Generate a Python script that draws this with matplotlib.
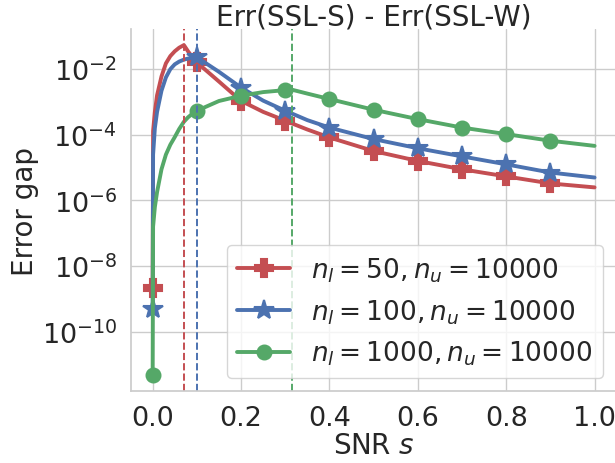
import matplotlib
matplotlib.use("Agg")
import matplotlib.pyplot as plt
import numpy as np
import seaborn as sns

# SNR grid shared by the three curves
snr = [0, 0.001, 0.005, 0.01, 0.02, 0.03, 0.04, 0.05, 0.06, 0.0707, 0.08, 0.09,
       0.1, 0.15, 0.2, 0.25, 0.3, 0.316, 0.35, 0.4, 0.5, 0.6, 0.7, 0.8, 0.9, 1.0]

gap_50 = [2.1e-9, 1.3e-4, 5.0e-4, 1.6e-3, 6.0e-3, 1.5e-2, 2.5e-2, 3.5e-2, 4.5e-2, 5.4e-2, 3.5e-2, 2.3e-2,
          1.6e-2, 4.2e-3, 1.08e-3, 5.0e-4, 2.7e-4, 2.2e-4, 1.45e-4, 8.3e-5, 3.2e-5, 1.6e-5, 8.9e-6, 5.4e-6, 3.3e-6, 2.5e-6]
gap_100 = [4.9e-10, 2.5e-5, 1.6e-4, 5.0e-4, 2.2e-3, 5.6e-3, 1.0e-2, 1.4e-2, 1.7e-2, 1.95e-2, 2.1e-2, 2.25e-2,
           2.3e-2, 8.3e-3, 2.75e-3, 1.1e-3, 5.4e-4, 4.4e-4, 2.8e-4, 1.66e-4, 7.4e-5, 3.9e-5, 2.2e-5, 1.26e-5, 7.1e-6, 5.0e-6]
gap_1000 = [4.8e-12, 1.6e-7, 6.3e-7, 1.8e-6, 8.9e-6, 2.5e-5, 5.0e-5, 8.5e-5, 1.5e-4, 2.5e-4, 3.4e-4, 4.4e-4,
            5.4e-4, 1.07e-3, 1.55e-3, 2.0e-3, 2.3e-3, 2.35e-3, 1.8e-3, 1.23e-3, 5.8e-4, 3.0e-4, 1.66e-4, 1.05e-4, 6.6e-5, 4.6e-5]

labels = [r'$n_l = 50, n_u = 10000$', r'$n_l = 100, n_u = 10000$', r'$n_l = 1000, n_u = 10000$']
s_star = [0.0707, 0.1, 0.316]
marker_snr = [0, 0.1, 0.2, 0.3, 0.4, 0.5, 0.6, 0.7, 0.8, 0.9]

sns.set_theme(style="whitegrid")
plt.rcParams['font.family'] = ['DejaVu Sans']
plt.rcParams['mathtext.fontset'] = 'dejavusans'

pal = sns.color_palette("deep")
colors = [pal[3], pal[0], pal[2]]
markers = ['P', '*', 'o']
msizes = [13, 15, 10]

s = np.array(snr)
mark_idx = [int(np.argmin(np.abs(s - m))) for m in marker_snr]

fig = plt.figure(figsize=(6.15, 4.64), dpi=100)
ax = fig.add_axes([0.213, 0.155, 0.789, 0.78])

for y, lab, c, m, ms in zip([gap_50, gap_100, gap_1000], labels, colors, markers, msizes):
    ax.plot(s, y, color=c, marker=m, markersize=ms, markevery=mark_idx, lw=2.8,
            markeredgewidth=1.5, markeredgecolor=c, label=lab)

for x, c in zip(s_star, colors):
    ax.axvline(x, color=c, ls='--', lw=1.4)

ax.set_yscale('log')
ax.set_ylim(10 ** -11.806, 10 ** -0.782)
ax.set_xlim(-0.049, 1.049)
ax.set_yticks([1e-10, 1e-8, 1e-6, 1e-4, 1e-2])
ax.minorticks_off()
ax.set_xticks([0, 0.2, 0.4, 0.6, 0.8, 1.0])
ax.tick_params(labelsize=19.5, colors='#262626', pad=4)
ax.set_xlabel('SNR $s$', fontsize=20, color='#262626', labelpad=0)
ax.set_ylabel('Error gap', fontsize=20, color='#262626', labelpad=2)
ax.set_title('Err(SSL-S) - Err(SSL-W)', fontsize=20, color='#262626', pad=3)
sns.despine(ax=ax)
for sp in ['left', 'bottom']:
    ax.spines[sp].set_color('#cccccc')

ax.legend(loc='lower right', fontsize=19, handlelength=2.0, borderaxespad=0.5)

fig.savefig('out.png', dpi=100)
